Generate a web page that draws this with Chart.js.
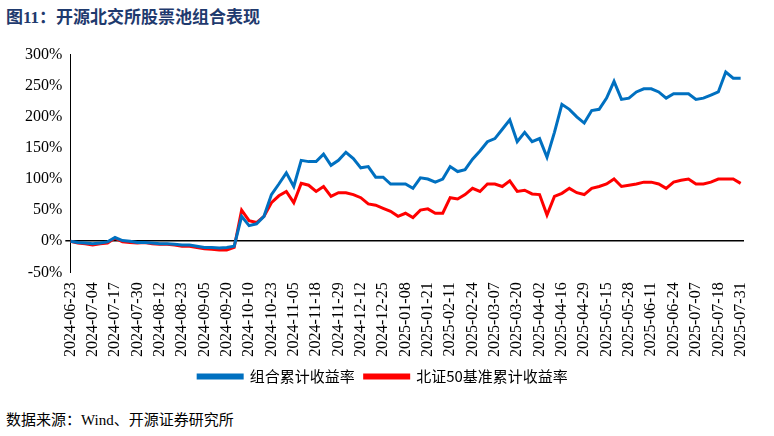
<!DOCTYPE html>
<html>
<head>
<meta charset="utf-8">
<script src="https://cdn.jsdelivr.net/npm/chart.js"></script>
<style>
  body { margin: 0; width: 774px; height: 436px; background: #fff; font-family: "Liberation Serif", "Noto Sans CJK SC", serif; }
  #title { position: absolute; left: 6px; top: 3px; font-size: 17px; font-weight: bold; color: #1f3a6e; font-family: "Liberation Serif", "Noto Sans CJK SC"; }
  #box { position: absolute; left: 0; top: 42px; width: 774px; height: 352px; }
  #source { position: absolute; left: 6px; top: 408px; font-size: 15px; color: #000; font-family: "Liberation Serif", "Noto Sans CJK SC"; }
</style>
</head>
<body>
<div id="title">图11：开源北交所股票池组合表现</div>
<div id="box"><canvas id="chart"></canvas></div>
<div id="source">数据来源：Wind、开源证券研究所</div>
<script>
// tick labels (one per category step)
const dates = ['2024-06-23','2024-07-04','2024-07-17','2024-07-30','2024-08-12','2024-08-23','2024-09-05','2024-09-20',
  '2024-10-10','2024-10-23','2024-11-05','2024-11-18','2024-11-29','2024-12-12','2024-12-25','2025-01-08','2025-01-21',
  '2025-02-11','2025-02-24','2025-03-07','2025-03-20','2025-04-02','2025-04-16','2025-04-29','2025-05-15','2025-05-28',
  '2025-06-11','2025-06-24','2025-07-07','2025-07-18','2025-07-31'];

// values sampled three times per label step, in %
const portfolio = [0,-2,-3, -4,-3,-1, 6,1,0, -2,-2,-3, -4,-4,-5, -6,-6,-8, -10,-10,-11, -10,-8,40,
  25,28,40, 75,92,110, 88,130,128, 128,140,122, 130,143,133, 118,120,103, 103,92,92,
  92,85,102, 100,95,100, 120,112,115, 132,145,160, 165,180,195, 160,175,160, 165,135,175,
  220,212,200, 190,210,212, 230,257,228, 230,240,245, 245,240,230, 237,237,237, 228,230,235,
  240,272,262, 262];
const bench = [0,-3,-4, -6,-4,-3, 5,-1,-2, -3,-2,-4, -5,-5,-6, -8,-8,-10, -12,-13,-14, -14,-10,50,
  33,30,40, 62,73,80, 62,93,90, 80,88,72, 78,78,75, 70,60,58, 53,48,40,
  45,38,50, 52,45,45, 70,68,75, 85,80,92, 92,88,97, 80,82,76, 75,42,72,
  77,85,78, 75,85,88, 92,100,88, 90,92,95, 95,92,85, 95,98,100, 92,92,95,
  100,100,100, 93];

const toPts = arr => arr.map((v, i) => ({ x: i / 3, y: v }));
const font = { family: '"Liberation Serif", serif', size: 16 };

new Chart(document.getElementById('chart'), {
  type: 'line',
  data: {
    datasets: [
      { label: '组合累计收益率', data: toPts(portfolio), borderColor: '#0070c0', backgroundColor: '#0070c0', borderWidth: 3, pointRadius: 0, tension: 0 },
      { label: '北证50基准累计收益率', data: toPts(bench), borderColor: '#ff0000', backgroundColor: '#ff0000', borderWidth: 3, pointRadius: 0, tension: 0 }
    ]
  },
  options: {
    responsive: true,
    maintainAspectRatio: false,
    animation: false,
    layout: { padding: { left: 22, right: 30, top: 4 } },
    plugins: {
      legend: {
        position: 'bottom',
        labels: { boxWidth: 44, boxHeight: 3, font: { family: '"Noto Sans CJK SC"', size: 15 }, color: '#000', padding: 10 }
      },
      tooltip: { enabled: false }
    },
    scales: {
      x: {
        type: 'linear', min: 0, max: 30.15,
        afterBuildTicks: axis => { axis.ticks = dates.map((d, i) => ({ value: i })); },
        grid: { display: false },
        border: { display: false },
        ticks: { autoSkip: false, maxRotation: 90, minRotation: 90, color: '#000', font: font, padding: 2,
          callback: v => dates[v] !== undefined ? dates[v] : '' }
      },
      y: {
        min: -50, max: 300,
        grid: { drawOnChartArea: true, drawTicks: true, tickLength: 5,
          color: ctx => ctx.tick && ctx.tick.value === 0 ? '#000' : 'rgba(0,0,0,0)',
          lineWidth: ctx => ctx.tick && ctx.tick.value === 0 ? 1.5 : 1 },
        border: { display: true, color: '#000' },
        ticks: { stepSize: 50, color: '#000', font: font, callback: v => v + '%' }
      }
    }
  }
});
</script>
</body>
</html>
